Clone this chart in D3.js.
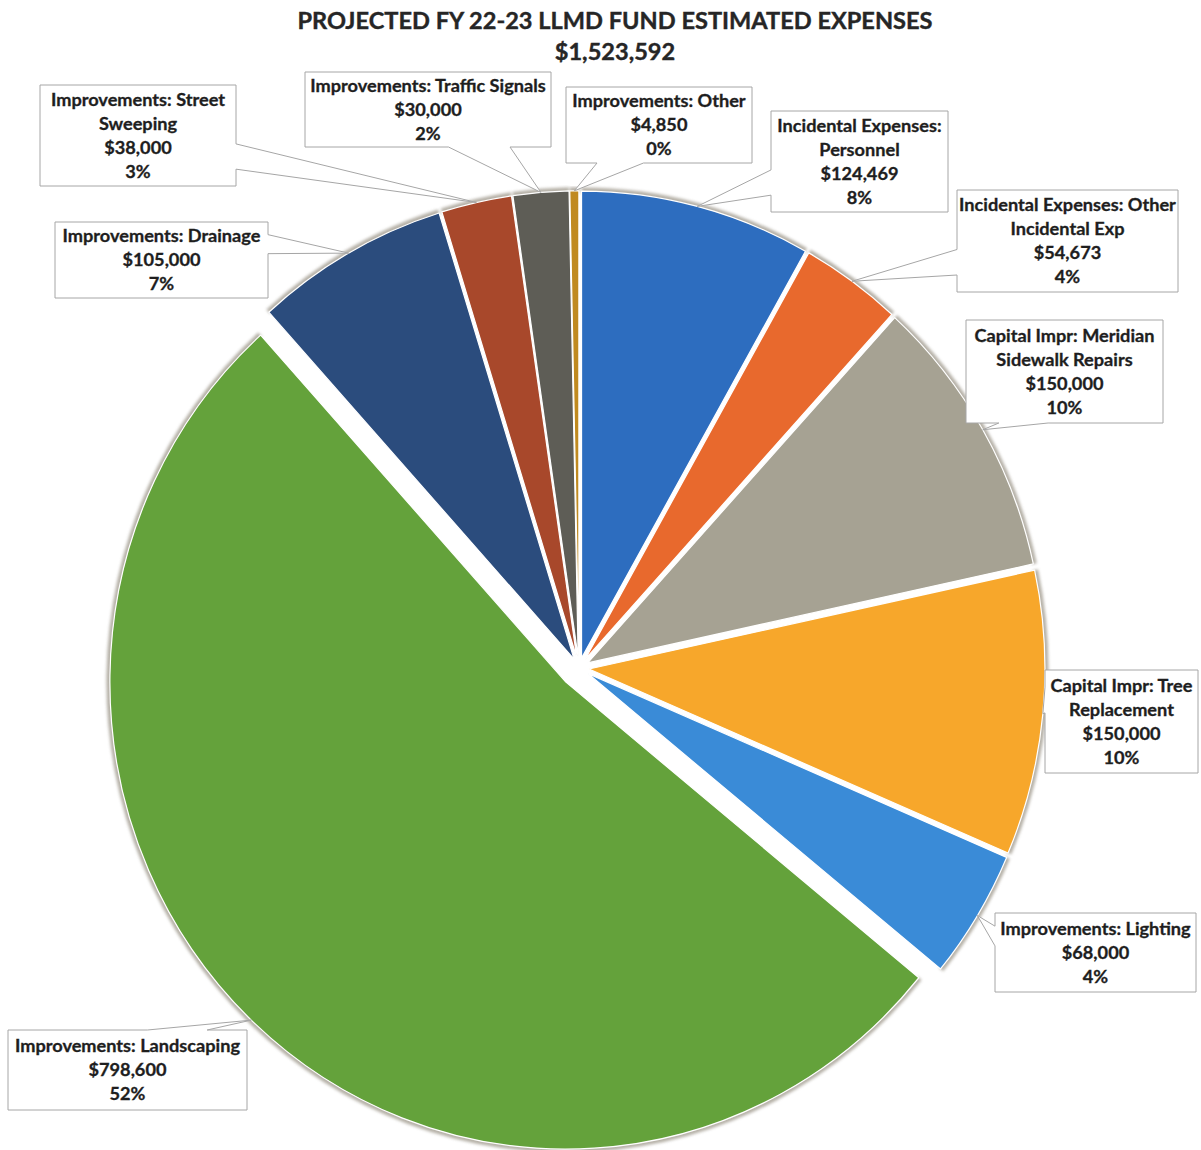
<!DOCTYPE html>
<html>
<head>
<meta charset="utf-8">
<script src="https://cdn.jsdelivr.net/npm/d3@7"></script>
<style>
  html, body { margin: 0; padding: 0; background: #ffffff; }
  svg { display: block; }
</style>
</head>
<body>
<svg id="chart" width="1201" height="1150"></svg>
<script>
// ---- data ----
const categories = [
  "Incidental Expenses:\nPersonnel",
  "Incidental Expenses: Other\nIncidental Exp",
  "Capital Impr: Meridian\nSidewalk Repairs",
  "Capital Impr: Tree\nReplacement",
  "Improvements: Lighting",
  "Improvements: Landscaping",
  "Improvements: Drainage",
  "Improvements: Street\nSweeping",
  "Improvements: Traffic Signals",
  "Improvements: Other"
];
const amounts = [124469, 54673, 150000, 150000, 68000, 798600, 105000, 38000, 30000, 4850];
const percentLabels = ["8%", "4%", "10%", "10%", "4%", "52%", "7%", "3%", "2%", "0%"];
const titleText = "PROJECTED FY 22-23 LLMD FUND ESTIMATED EXPENSES";

// ---- styling & layout ----
const sliceColors = ["#2d6dbf", "#e8692d", "#a6a293", "#f7a72b", "#3a8bd7",
                     "#64a23b", "#2b4c7d", "#a8482b", "#5e5d56", "#c08a20"];
// callout boxes [x, y, w, h], same order as categories
const calloutBoxes = [
  [771, 111, 177, 101],
  [957, 190, 221, 102],
  [966, 320, 197, 103],
  [1045, 670, 153, 103],
  [995, 913, 201, 79],
  [8, 1030, 239, 80],
  [55, 222, 213, 76],
  [40, 85, 196, 101],
  [305, 72, 246, 75],
  [566, 87, 186, 76]
];

const svg = d3.select("#chart");
const cx = 579, cy = 668, rx = 456, ry = 467;
const k = ry / rx;
const explode = i => (amounts[i] === d3.max(amounts) ? 19 : 10);

const fmtMoney = v => "$" + d3.format(",")(v);

const defs = svg.append("defs");
defs.append("filter").attr("id", "edgeGlow")
  .attr("x", "-20%").attr("y", "-20%").attr("width", "140%").attr("height", "140%")
  .append("feGaussianBlur").attr("stdDeviation", 1.8);

const pie = d3.pie().value(d => d).sort(null).startAngle(0).endAngle(2 * Math.PI);
const arcs = pie(amounts);
const arcGen = d3.arc().innerRadius(0).outerRadius(rx);
const rimGen = d3.arc().innerRadius(rx - 2).outerRadius(rx + 3.5);

const midAngle = a => (a.startAngle + a.endAngle) / 2;
const offsetOf = (a, i) => {
  const m = midAngle(a), e = explode(i);
  return [Math.sin(m) * e, -Math.cos(m) * e];
};

const pieG = svg.append("g")
  .attr("transform", `translate(${cx},${cy}) scale(1,${k})`);

// soft grey rim around the outer edge of each slice
pieG.append("g").selectAll("path").data(arcs).join("path")
  .attr("transform", (a, i) => `translate(${offsetOf(a, i)})`)
  .attr("d", rimGen)
  .attr("fill", "#a8a397")
  .attr("opacity", 0.85)
  .attr("filter", "url(#edgeGlow)");

pieG.append("g").selectAll("path").data(arcs).join("path")
  .attr("transform", (a, i) => `translate(${offsetOf(a, i)})`)
  .attr("d", arcGen)
  .attr("fill", (a, i) => sliceColors[i])
  .attr("stroke", "#ffffff")
  .attr("stroke-width", 1.2)
  .attr("stroke-linejoin", "round");

// ---- helpers ----
const fontFamily = "Lato, 'Open Sans', sans-serif";
function naturalWidth(text, size) {
  const t = svg.append("text").attr("font-family", fontFamily)
    .attr("font-weight", 700).attr("font-size", size).text(text);
  const w = t.node().getComputedTextLength();
  t.remove();
  return w;
}

// ---- title (condensed bold, two lines) ----
const titleSize = 23.5;
const squeeze = 635 / naturalWidth(titleText, titleSize);
[[titleText, 20], [fmtMoney(d3.sum(amounts)), 51]].forEach(([s, y]) => {
  svg.append("text")
    .attr("x", 615).attr("y", y)
    .attr("text-anchor", "middle").attr("dominant-baseline", "central")
    .attr("font-family", fontFamily).attr("font-weight", 700)
    .attr("font-size", titleSize).attr("fill", "#262626")
    .attr("stroke", "#262626").attr("stroke-width", 0.4)
    .attr("textLength", naturalWidth(s, titleSize) * squeeze)
    .attr("lengthAdjust", "spacingAndGlyphs")
    .text(s);
});

// ---- callouts ----
function calloutPath(x, y, w, h, tx, ty) {
  const l = x, r = x + w, t = y, b = y + h;
  const dx = tx - (x + w / 2), dy = ty - (y + h / 2);
  const dq = dx * h / w;
  const x1 = x + w * (dx > 0 ? 7 : 2) / 12, x2 = x + w * (dx > 0 ? 10 : 5) / 12;
  const y1 = y + h * (dy > 0 ? 7 : 2) / 12, y2 = y + h * (dy > 0 ? 10 : 5) / 12;
  const p = d3.path();
  if (tx >= l && tx <= r && ty >= t && ty <= b) {
    p.rect(x, y, w, h);
  } else if (Math.abs(dy) > Math.abs(dq)) {
    if (dy < 0) {
      p.moveTo(l, t); p.lineTo(x1, t); p.lineTo(tx, ty); p.lineTo(x2, t);
      p.lineTo(r, t); p.lineTo(r, b); p.lineTo(l, b); p.closePath();
    } else {
      p.moveTo(l, t); p.lineTo(r, t); p.lineTo(r, b); p.lineTo(x2, b);
      p.lineTo(tx, ty); p.lineTo(x1, b); p.lineTo(l, b); p.closePath();
    }
  } else {
    if (dx < 0) {
      p.moveTo(l, t); p.lineTo(r, t); p.lineTo(r, b); p.lineTo(l, b);
      p.lineTo(l, y2); p.lineTo(tx, ty); p.lineTo(l, y1); p.closePath();
    } else {
      p.moveTo(l, t); p.lineTo(r, t); p.lineTo(r, y1); p.lineTo(tx, ty);
      p.lineTo(r, y2); p.lineTo(r, b); p.lineTo(l, b); p.closePath();
    }
  }
  return p.toString();
}

const labelSize = 16.6;
const labelSqueeze = 225 / naturalWidth("Improvements: Landscaping", labelSize);
const lineGap = 24;
const labelG = svg.append("g");

arcs.forEach((a, i) => {
  const [bx, by, bw, bh] = calloutBoxes[i];
  const m = midAngle(a);
  const [ox, oy] = offsetOf(a, i);
  const tx = cx + ox + rx * Math.sin(m);
  const ty = cy + (oy - rx * Math.cos(m)) * k;

  labelG.append("path")
    .attr("d", calloutPath(bx, by, bw, bh, tx, ty))
    .attr("fill", "#ffffff")
    .attr("stroke", "#a6a6a6")
    .attr("stroke-width", 1);

  const lines = categories[i].split("\n").concat([fmtMoney(amounts[i]), percentLabels[i]]);
  const top = by + bh / 2 - (lines.length - 1) * lineGap / 2;
  lines.forEach((s, j) => {
    labelG.append("text")
      .attr("x", bx + bw / 2).attr("y", top + j * lineGap)
      .attr("text-anchor", "middle").attr("dominant-baseline", "central")
      .attr("font-family", fontFamily).attr("font-weight", 700)
      .attr("font-size", labelSize).attr("fill", "#1e1e1e")
      .attr("stroke", "#1e1e1e").attr("stroke-width", 0.3)
      .attr("textLength", naturalWidth(s, labelSize) * labelSqueeze)
      .attr("lengthAdjust", "spacingAndGlyphs")
      .text(s);
  });
});
</script>
</body>
</html>
